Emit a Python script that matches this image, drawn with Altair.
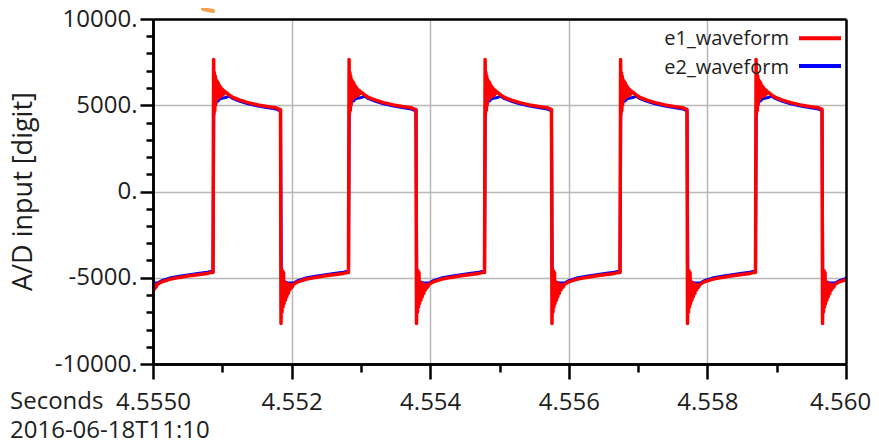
import altair as alt
import pandas as pd

# ---------------- data ----------------
# edge times (seconds)
rise_t = [4.5550866, 4.5552821, 4.5554784, 4.5556739, 4.5558694]
fall_t = [4.5549877, 4.5551840, 4.5553795, 4.5555750, 4.5557706, 4.5559654]

# e1 shape after a rising edge: offset in microseconds, value in digits
e1_high_us = [0.0, 0.87, 1.44, 2.02, 2.60, 3.17, 3.75, 4.33, 5.05, 5.77, 6.64, 7.50, 8.37, 9.24,
              10.1, 11.1, 12.1, 13.3, 14.4, 15.9, 17.3, 18.8, 23.1, 28.9, 39.0, 50.5, 64.9, 79.4, 90.9, 95.2]
e1_high_v = [-4700, 7650, 4500, 6900, 4700, 6700, 5000, 6500, 5300, 6400, 5400, 6300, 5450, 6150,
             5500, 6050, 5550, 5950, 5600, 5850, 5700, 5750, 5600, 5450, 5300, 5150, 5020, 4920, 4850, 4780]
# e1 shape after a falling edge
e1_low_us = [0.0, 0.72, 1.44, 2.16, 2.89, 3.61, 4.33, 5.05, 6.06, 7.07, 8.08, 9.09, 10.1, 11.3,
             12.4, 13.7, 15.2, 16.6, 18.8, 26.0, 36.1, 50.5, 64.9, 79.4, 90.9, 95.2]
e1_low_v = [4750, -7650, -4550, -7000, -4600, -6700, -4700, -6500, -5250, -6300, -5300, -6100, -5350, -5900,
            -5400, -5700, -5400, -5550, -5380, -5220, -5090, -4980, -4890, -4810, -4750, -4700]

# e2 shape after a rising edge
e2_high_us = [0.0, 1.15, 2.16, 3.61, 5.05, 7.22, 10.1, 14.4, 18.8, 23.1, 28.9, 39.0, 50.5, 64.9, 79.4, 90.9, 95.2]
e2_high_v = [-4650, 4900, 5550, 5050, 5400, 5250, 5380, 5420, 5450, 5530, 5380, 5230, 5080, 4950, 4850, 4780, 4710]
# e2 shape after a falling edge
e2_low_us = [0.0, 1.15, 2.16, 3.61, 5.05, 7.22, 10.1, 14.4, 18.8, 26.0, 36.1, 50.5, 64.9, 79.4, 90.9, 95.2]
e2_low_v = [4700, -4900, -5550, -5050, -5400, -5250, -5300, -5300, -5310, -5150, -5020, -4910, -4820, -4740, -4680, -4630]

series_names = ["e1_waveform", "e2_waveform"]
series_colors = ["#ff0000", "#0000ff"]

x_tick_values = [4.5550, 4.5552, 4.5554, 4.5556, 4.5558, 4.5560]
x_tick_labels = ["4.5550", "4.552", "4.554", "4.556", "4.558", "4.560"]
x_minor_values = [4.5551, 4.5553, 4.5555, 4.5557, 4.5559]
y_tick_values = [-10000, -5000, 0, 5000, 10000]
y_tick_labels = ["-10000.", "-5000.", "0.", "5000.", "10000."]
y_minor_values = [-9000, -8000, -7000, -6000, -4000, -3000, -2000, -1000,
                  1000, 2000, 3000, 4000, 6000, 7000, 8000, 9000]

x_title = "Seconds"
x_subtitle = "2016-06-18T11:10"
y_title = "A/D input [digit]"

# ---------------- build table ----------------
rows = []
for name, hu, hv, lu, lv in [
    ("e1_waveform", e1_high_us, e1_high_v, e1_low_us, e1_low_v),
    ("e2_waveform", e2_high_us, e2_high_v, e2_low_us, e2_low_v),
]:
    for r in rise_t:
        for u, v in zip(hu, hv):
            rows.append({"t": r + u * 1e-6, "v": v, "s": name})
    for f in fall_t:
        for u, v in zip(lu, lv):
            rows.append({"t": f + u * 1e-6, "v": v, "s": name})
df = pd.DataFrame(rows)

FONT = "Open Sans"
TXT = "#1e1e1e"
W, H = 693, 345

xs = alt.Scale(domain=[x_tick_values[0], x_tick_values[-1]], nice=False, zero=False)
ys = alt.Scale(domain=[y_tick_values[0], y_tick_values[-1]], nice=False, zero=False)


def js_list(a):
    return "[" + ",".join(repr(v) if not isinstance(v, str) else "'" + v + "'" for v in a) + "]"


x_label_expr = f"{js_list(x_tick_labels)}[indexof({js_list(x_tick_values)}, datum.value)]"
y_label_expr = f"{js_list(y_tick_labels)}[indexof({js_list(y_tick_values)}, datum.value)]"

x_major = alt.Axis(orient="bottom", values=x_tick_values, labelExpr=x_label_expr, title=None,
                   tickSize=15, tickWidth=2.5, tickColor="black",
                   domain=True, domainColor="black", domainWidth=2.5,
                   grid=True, gridColor="#b8b8b8", gridWidth=1.5,
                   labelFont=FONT, labelFontSize=24, labelColor=TXT, labelBaseline="alphabetic",
                   labelOffset={"condition": {"test": f"datum.value > {x_tick_values[-2] + 0.0001}", "value": -6},
                                "value": 0},
                   labelPadding=30, labelFlush=False, labelOverlap=False, zindex=0)
y_major = alt.Axis(orient="left", values=y_tick_values, labelExpr=y_label_expr, title=None,
                   tickSize=13, tickWidth=2.5, tickColor="black",
                   domain=True, domainColor="black", domainWidth=2.5,
                   grid=True, gridColor="#b8b8b8", gridWidth=1.5,
                   labelFont=FONT, labelFontSize=24, labelColor=TXT, labelBaseline="middle",
                   labelPadding=3, labelFlush=False, labelOverlap=False, zindex=0)
x_minor = alt.Axis(orient="bottom", values=x_minor_values, labels=False, title=None, grid=False,
                   tickSize=8, tickWidth=2.5, tickColor="black",
                   domain=True, domainColor="black", domainWidth=2.5, zindex=1)
y_minor = alt.Axis(orient="left", values=y_minor_values, labels=False, title=None, grid=False,
                   tickSize=7, tickWidth=2.5, tickColor="black",
                   domain=True, domainColor="black", domainWidth=2.5, zindex=1)
x_top = alt.Axis(orient="top", labels=False, ticks=False, title=None, grid=False,
                 domain=True, domainColor="black", domainWidth=2.5, zindex=1)
y_right = alt.Axis(orient="right", labels=False, ticks=False, title=None, grid=False,
                   domain=True, domainColor="black", domainWidth=2.5, zindex=1)

base = alt.Chart(df)

blue = base.transform_filter(alt.datum.s == series_names[1]).mark_line(
    color=series_colors[1], strokeWidth=3, clip=True, strokeJoin="round"
).encode(x=alt.X("t:Q", scale=xs, axis=x_major), y=alt.Y("v:Q", scale=ys, axis=y_major))

red = base.transform_filter(alt.datum.s == series_names[0]).mark_line(
    color=series_colors[0], strokeWidth=3.5, clip=True, strokeJoin="round"
).encode(x=alt.X("t:Q", scale=xs, axis=x_minor), y=alt.Y("v:Q", scale=ys, axis=y_minor))

frame = alt.Chart(pd.DataFrame({"t": [4.5555], "v": [0]})).mark_point(opacity=0).encode(
    x=alt.X("t:Q", scale=xs, axis=x_top), y=alt.Y("v:Q", scale=ys, axis=y_right))

dummy = alt.Chart(pd.DataFrame({"a": [0]}))


def label(txt, x, y, size=24, align="left", baseline="alphabetic", angle=0, color=TXT):
    return dummy.mark_text(text=txt, font=FONT, fontSize=size, align=align, baseline=baseline,
                           angle=angle, color=color).encode(x=alt.value(x), y=alt.value(y))


texts = [
    label(x_title, -143, 390),
    label(x_subtitle, -143, 419),
    label(y_title, -121, 172.5, size=27, align="center", angle=270),
    label(series_names[0], 636, 26, size=20, align="right"),
    label(series_names[1], 636, 55, size=20, align="right"),
]

decor = [
    dummy.mark_rule(color=series_colors[0], strokeWidth=4).encode(
        x=alt.value(646), x2=alt.value(688), y=alt.value(19.3)),
    dummy.mark_rule(color=series_colors[1], strokeWidth=4).encode(
        x=alt.value(646), x2=alt.value(688), y=alt.value(47)),
    # orange arrow fragment at the top edge
    dummy.mark_rule(color="#f5a04a", strokeWidth=4, strokeCap="round").encode(
        x=alt.value(50), x2=alt.value(60), y=alt.value(-10), y2=alt.value(-8)),
]

chart = alt.layer(blue, red, frame, *texts, *decor).resolve_axis(
    x="independent", y="independent"
).properties(
    width=W, height=H,
    autosize=alt.AutoSizeParams(type="none"),
    padding={"left": 145, "top": 11, "right": 25, "bottom": 76},
).configure_view(stroke=None).configure(background="white")

chart.save("out.html", embed_options={"renderer": "svg", "actions": False})
